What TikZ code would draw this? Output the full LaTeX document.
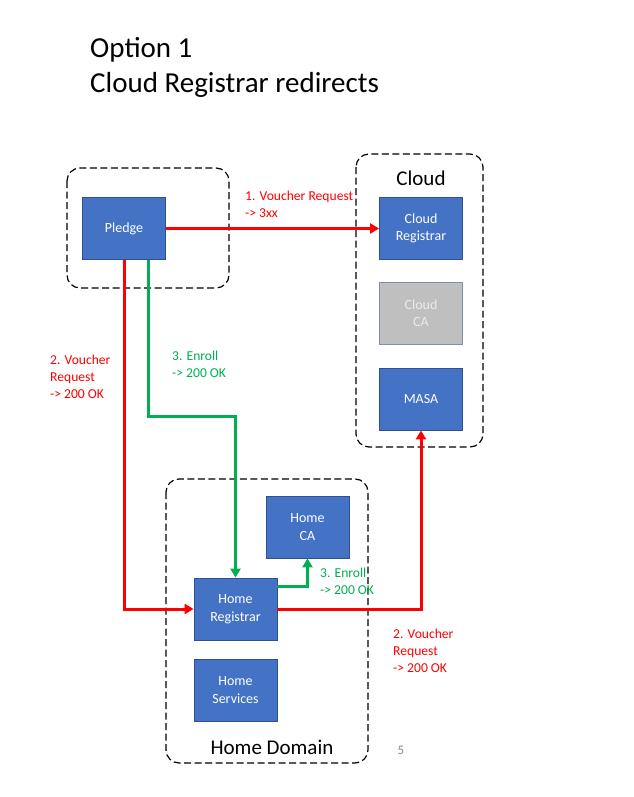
\documentclass[tikz,border=0pt]{standalone}
\usepackage{fontspec}
\setmainfont{Carlito}
\usetikzlibrary{arrows.meta,calc}
\definecolor{boxblue}{HTML}{4472C4}
\definecolor{boxedge}{HTML}{2F528F}
\definecolor{cagray}{HTML}{BFBFBF}
\definecolor{cagrayedge}{HTML}{7F8FA9}
\definecolor{ared}{HTML}{FF0000}
\definecolor{agreen}{HTML}{00B050}
\definecolor{pgnum}{HTML}{888888}
\tikzset{
  unit/.style={draw=boxedge, fill=boxblue, line width=0.8pt, minimum width=83pt, minimum height=62pt, inner sep=0pt, text=white, font=\fontsize{14}{17.5}\selectfont, align=center},
  grayunit/.style={unit, fill=cagray, draw=cagrayedge, text=white!92!black},
  group/.style={draw=black, dash pattern=on 7pt off 3.5pt, line width=1.2pt, rounded corners=13pt},
  redflow/.style={draw=ared, line width=3pt, -{Triangle[length=9pt,width=10pt]}},
  greenflow/.style={draw=agreen, line width=3pt, -{Triangle[length=9pt,width=10pt]}},
  redlbl/.style={text=ared, font=\fontsize{13.6}{17}\selectfont, align=left, anchor=north west, inner sep=0pt},
  greenlbl/.style={text=agreen, font=\fontsize{13.6}{17}\selectfont, align=left, anchor=north west, inner sep=0pt},
}
\begin{document}
\begin{tikzpicture}[x=1pt,y=-1pt]
\useasboundingbox (0,0) rectangle (633,797);
% title
\node[anchor=north west, inner sep=0pt, align=left, font=\fontsize{29}{35}\selectfont] (title) at (90,37) {Option 1\\Cloud Registrar redirects};
% groups
\draw[group] (67,168) rectangle (229,288);
\draw[group] (356,154) rectangle (483,447);
\draw[group] (166,479) rectangle (368,763);
\node[font=\fontsize{21}{24}\selectfont, inner sep=0pt] (cloudlbl) at (421,178) {Cloud};
\node[font=\fontsize{21}{24}\selectfont, inner sep=0pt] (homelbl) at (272,747) {Home Domain};
\node[text=pgnum, font=\fontsize{13}{14}\selectfont, inner sep=0pt] (pnum) at (401,750) {5};
% boxes
\node[unit] (pledge) at (124,228.5) {Pledge};
\node[unit] (creg) at (421,228.5) {Cloud\\Registrar};
\node[grayunit] (cca) at (421,313) {Cloud\\CA};
\node[unit] (masa) at (421,399) {MASA};
\node[unit] (hca) at (307.5,527) {Home\\CA};
\node[unit] (hreg) at (235.5,609) {Home\\Registrar};
\node[unit] (hsvc) at (235.5,690) {Home\\Services};
% flows
\draw[redflow] (pledge.east) -- (creg.west);
\draw[redflow] (pledge.south west) ++(42,0) coordinate (p2) |- (hreg.west);
\draw[redflow] (hreg.east) -| (masa.south);
\draw[greenflow] (pledge.south west) ++(66,0) coordinate (p3) -- ++(0,157) -| (hreg.north);
\draw[greenflow] (hreg.north east) ++(0,9) -| (hca.south);
% labels
\node[redlbl] (l1) at (245,191) {1. Voucher Request\\-> 3xx};
\node[redlbl] (l2) at (50,355) {2. Voucher\\Request\\-> 200 OK};
\node[greenlbl] (l3) at (172,351) {3. Enroll\\-> 200 OK};
\node[greenlbl] (l4) at (320,568) {3. Enroll\\-> 200 OK};
\node[redlbl] (l5) at (393,629) {2. Voucher\\Request\\-> 200 OK};
\end{tikzpicture}
\end{document}
